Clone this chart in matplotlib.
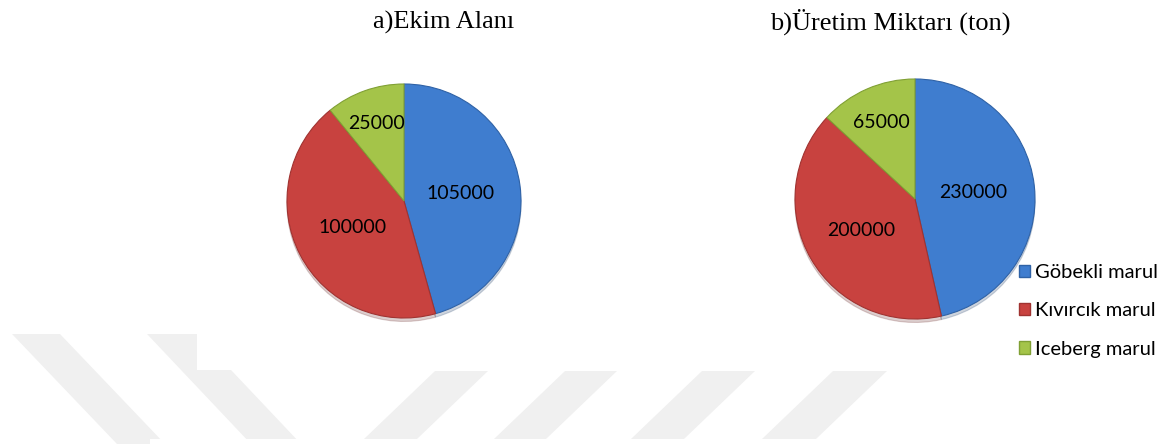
import matplotlib
matplotlib.use("Agg")
import matplotlib.pyplot as plt
from matplotlib.patches import Polygon, Rectangle, Patch
import numpy as np

# ---- data ----
categories = ["Göbekli marul", "Kıvırcık marul", "Iceberg marul"]
ekim_alani = [105000, 100000, 25000]
uretim_miktari = [230000, 200000, 65000]
titles = ["a)Ekim Alanı", "b)Üretim Miktarı (ton)"]

colors = ["#3F7DCF", "#C8423F", "#A4C449"]
edges = ["#2F62A6", "#A03331", "#80A034"]

W, H = 1168, 444
fig = plt.figure(figsize=(W / 100, H / 100), dpi=100)
ax = fig.add_axes([0, 0, 1, 1])
ax.set_axis_off()

def Y(y):
    return H - y

# ---- faint background watermark stripes ----
stripe_col = "#F0F0F0"
back = [
    [(12, 334), (60, 334), (165, 444), (117, 444)],
    [(147, 334), (197, 334), (301, 444), (251, 444)],
    [(435, 371), (488, 371), (417, 439), (364, 439)],
    [(565, 371), (617, 371), (546, 439), (494, 439)],
    [(702, 371), (755, 371), (684, 439), (631, 439)],
    [(833, 371), (887, 371), (816, 439), (762, 439)],
]
for pts in back:
    ax.add_patch(Polygon([(x, Y(y)) for x, y in pts], closed=True,
                         facecolor=stripe_col, edgecolor="none", zorder=0))
ax.add_patch(Rectangle((197, Y(370)), 415, 46, facecolor="white",
                       edgecolor="none", zorder=0.5))
ax.add_patch(Rectangle((150, 0), 1018, 5, facecolor="white",
                       edgecolor="none", zorder=0.5))

# ---- pies ----
centers = [(404, 201), (915, 199)]
radii = [117, 120]
label_r = [[0.49, 0.50, 0.70], [0.49, 0.52, 0.70]]
title_pos = [(444, 22), (890, 22)]
datasets = [ekim_alani, uretim_miktari]

for k, vals in enumerate(datasets):
    cx, cy = centers[k]
    wedges, _ = ax.pie(vals, colors=colors, startangle=90, counterclock=False,
                       center=(cx, Y(cy)), radius=radii[k],
                       wedgeprops=dict(linewidth=0.8),
                       shadow={"ox": 0, "oy": -2.5, "shade": 0.5, "alpha": 0.22})
    for w, ec in zip(wedges, edges):
        w.set_edgecolor(ec)
    for w, v, fr in zip(wedges, vals, label_r[k]):
        ang = np.deg2rad((w.theta1 + w.theta2) / 2)
        ax.text(cx + fr * radii[k] * np.cos(ang), Y(cy) + fr * radii[k] * np.sin(ang),
                f"{v}", ha="center", va="center", fontsize=14, family="Lato",
                color="black", zorder=5)
    tx, ty = title_pos[k]
    ax.text(tx, Y(ty), titles[k], ha="center", va="center", fontsize=19,
            family="Liberation Serif", color="black")

ax.set_xlim(0, W)
ax.set_ylim(0, H)
ax.set_aspect("equal")

handles = [Patch(facecolor=c, edgecolor=e) for c, e in zip(colors, edges)]
fig.legend(handles, categories, loc="center left",
           bbox_to_anchor=(1019 / W, 1 - 311 / H), frameon=False,
           prop={"family": "Lato", "size": 14.5}, handlelength=0.55,
           handleheight=0.55, handletextpad=0.25, labelspacing=1.05,
           borderpad=0, borderaxespad=0)

fig.savefig("out.png", dpi=100)
